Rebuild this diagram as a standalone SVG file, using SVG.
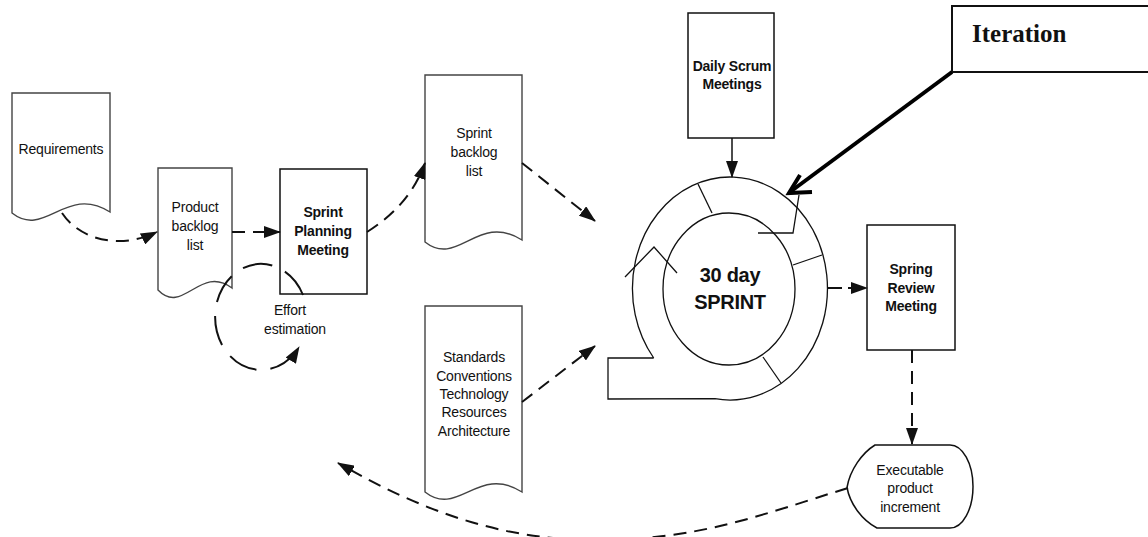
<svg xmlns="http://www.w3.org/2000/svg" width="1148" height="537" viewBox="0 0 1148 537">
<style>
.doc{fill:#fff;stroke:#444;stroke-width:1.4}
.box{fill:#fff;stroke:#111;stroke-width:1.5}
.ln{fill:none;stroke:#111;stroke-width:1.3}
.t{font-family:"Liberation Sans",Arial,sans-serif;font-size:14px;fill:#111;text-anchor:middle;letter-spacing:-0.2px}
.b{font-weight:bold}
.big{font-size:20px;letter-spacing:-0.3px;font-weight:bold}
.it{font-family:"Liberation Serif","Times New Roman",serif;font-size:25px;font-weight:bold;fill:#111}
.dash{fill:none;stroke:#111;stroke-width:2;stroke-dasharray:13 8}
.sol{fill:none;stroke:#111;stroke-width:1.5}
</style>
<defs>
<marker id="ah" markerUnits="userSpaceOnUse" markerWidth="17" markerHeight="12" refX="16" refY="6" orient="auto">
<path d="M0,0 L17,6 L0,12 Z" fill="#111"/>
</marker>
</defs>
<rect width="1148" height="537" fill="#fff"/>

<g id="requirements">
<path class="doc" d="M12 93 L110 93 L110 212 C66 184 45 239 12 213 Z"/>
<text class="t" x="61" y="154">Requirements</text>
</g>

<g id="product-backlog">
<path class="doc" d="M158 168 L232 168 L232 288 C200 264 183 316 158 290 Z"/>
<text class="t" x="195" y="212">Product</text>
<text class="t" x="195" y="231">backlog</text>
<text class="t" x="195" y="250">list</text>
</g>

<g id="sprint-planning">
<rect class="box" x="280" y="169" width="87" height="125"/>
<text class="t b" x="323" y="217">Sprint</text>
<text class="t b" x="323" y="236">Planning</text>
<text class="t b" x="323" y="255">Meeting</text>
</g>

<g id="effort-estimation">
<text class="t" x="290" y="315">Effort</text>
<text class="t" x="295" y="334">estimation</text>
</g>

<g id="sprint-backlog">
<path class="doc" d="M425 75 L522 75 L522 240 C478 212 458 268 425 242 Z"/>
<text class="t" x="474" y="138">Sprint</text>
<text class="t" x="474" y="157">backlog</text>
<text class="t" x="474" y="176">list</text>
</g>

<g id="standards">
<path class="doc" d="M425 306 L522 306 L522 492 C478 464 458 518 425 492 Z"/>
<text class="t" x="474" y="362">Standards</text>
<text class="t" x="474" y="381">Conventions</text>
<text class="t" x="474" y="399">Technology</text>
<text class="t" x="474" y="417">Resources</text>
<text class="t" x="474" y="436">Architecture</text>
</g>

<g id="daily-scrum">
<rect class="box" x="688" y="13" width="86" height="125"/>
<text class="t b" x="732" y="71">Daily Scrum</text>
<text class="t b" x="732" y="89">Meetings</text>
</g>

<g id="sprint-cycle">
<path class="ln" d="M653.7 358 L608 358 L608 399 L715 398.7 A97.5 111.5 0 1 0 653.7 358"/>
<ellipse class="ln" cx="729" cy="289" rx="66" ry="76"/>
<line class="ln" x1="698" y1="184" x2="712" y2="213"/>
<line class="ln" x1="793" y1="265" x2="822" y2="255"/>
<line class="ln" x1="763" y1="357" x2="781" y2="383"/>
<polyline class="ln" points="625,277 654,247 677,273"/>
<polyline class="ln" points="758,233 793,233 799,195"/>
<text class="t big" x="730" y="282">30 day</text>
<text class="t big" x="730" y="309">SPRINT</text>
</g>

<g id="spring-review">
<rect class="box" x="867" y="225" width="88" height="125"/>
<text class="t b" x="911" y="274">Spring</text>
<text class="t b" x="911" y="293">Review</text>
<text class="t b" x="911" y="311">Meeting</text>
</g>

<g id="executable-increment">
<path class="box" d="M875 445 L950 445 A23 41.5 0 0 1 950 528 L877 528 C862 520 850 504 847 487.5 C850 470 862 453 875 445 Z"/>
<text class="t" x="910" y="475">Executable</text>
<text class="t" x="910" y="493">product</text>
<text class="t" x="910" y="512">increment</text>
</g>

<g id="iteration">
<rect x="952" y="6" width="200" height="66" fill="#fff" stroke="#111" stroke-width="2"/>
<text class="it" x="972" y="42">Iteration</text>
</g>

<g id="connectors">
<path class="dash" d="M62 213 C80 240 120 250 157 232" marker-end="url(#ah)"/>
<line class="dash" x1="232" y1="232" x2="280" y2="232" marker-end="url(#ah)"/>
<path class="dash" d="M367 232 Q410 205 425 163" marker-end="url(#ah)"/>
<path class="dash" style="stroke-dasharray:30 14" d="M303 295 A46 53 0 1 0 299 347" marker-end="url(#ah)"/>
<line class="dash" x1="522" y1="163" x2="595" y2="221" marker-end="url(#ah)"/>
<line class="dash" x1="522" y1="402" x2="595" y2="346" marker-end="url(#ah)"/>
<line class="sol" x1="732" y1="138" x2="732" y2="177" marker-end="url(#ah)"/>
<line class="dash" style="stroke-dasharray:15 6" x1="827" y1="288" x2="867" y2="288" marker-end="url(#ah)"/>
<line class="dash" x1="912" y1="350" x2="912" y2="444" marker-end="url(#ah)"/>
<path class="dash" d="M848 488 C760 515 700 540 595 540 C500 540 420 510 338 463" marker-end="url(#ah)"/>
<line x1="952" y1="72" x2="790" y2="192" stroke="#000" stroke-width="4"/>
<polyline points="800,175 789,193 812,192" fill="none" stroke="#000" stroke-width="4" stroke-linejoin="miter"/>
</g>
</svg>
